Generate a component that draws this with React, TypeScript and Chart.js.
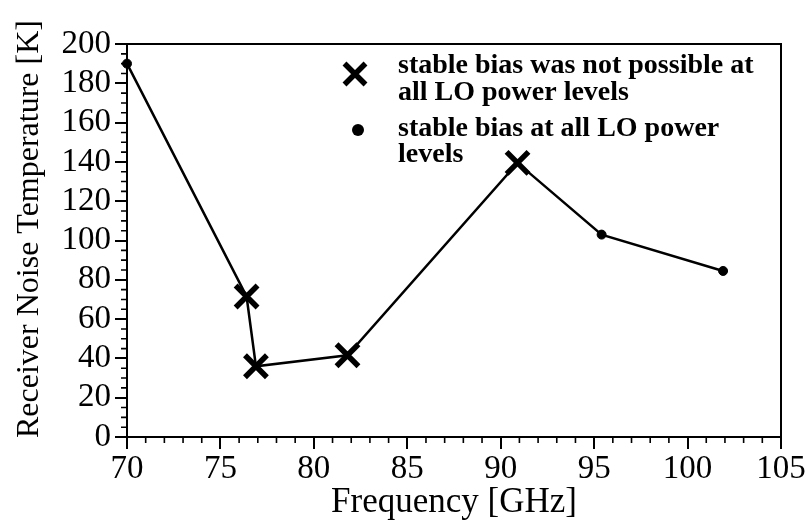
import React, { useEffect, useRef } from 'react';
import { Chart, registerables } from 'chart.js';

Chart.register(...registerables);

// ---- data ----
const frequencies = [70, 76.4, 76.9, 81.8, 90.9, 95.4, 101.9];
const temperatures = [190, 71.5, 36, 41.6, 139.5, 103, 84.5];
const stableAtAllLevels = [true, false, false, false, false, true, true];

const legendUnstable = ['stable bias was not possible at', 'all LO power levels'];
const legendStable = ['stable bias at all LO power', 'levels'];

const xTitle = 'Frequency [GHz]';
const yTitle = 'Receiver Noise Temperature [K]';
const xMin = 70;
const xMax = 105;
const xMajorStep = 5;
const xMinorStep = 1;
const yMin = 0;
const yMax = 200;
const yMajorStep = 20;
const yMinorStep = 5;

const SERIF = '"Liberation Serif", "Times New Roman", Times, serif';

function drawCross(ctx: CanvasRenderingContext2D, x: number, y: number, r: number, lw: number) {
  ctx.save();
  ctx.strokeStyle = '#000';
  ctx.lineWidth = lw;
  ctx.beginPath();
  ctx.moveTo(x - r, y - r);
  ctx.lineTo(x + r, y + r);
  ctx.moveTo(x - r, y + r);
  ctx.lineTo(x + r, y - r);
  ctx.stroke();
  ctx.restore();
}

const framePlugin = {
  id: 'frameAndMinor',
  afterDraw(chart: any) {
    const { ctx, chartArea } = chart;
    const xs = chart.scales.x;
    const ys = chart.scales.y;
    ctx.save();
    ctx.strokeStyle = '#000';
    ctx.lineWidth = 2;
    ctx.strokeRect(chartArea.left, chartArea.top, chartArea.right - chartArea.left, chartArea.bottom - chartArea.top);
    ctx.lineWidth = 1.6;
    ctx.beginPath();
    for (let v = xMin; v <= xMax; v += xMinorStep) {
      if (v % xMajorStep === 0) continue;
      const px = xs.getPixelForValue(v);
      ctx.moveTo(px, chartArea.bottom);
      ctx.lineTo(px, chartArea.bottom + 6);
    }
    for (let v = yMin; v <= yMax; v += yMinorStep) {
      if (v % yMajorStep === 0) continue;
      const py = ys.getPixelForValue(v);
      ctx.moveTo(chartArea.left - 6, py);
      ctx.lineTo(chartArea.left, py);
    }
    ctx.stroke();

    // y axis title
    ctx.save();
    ctx.translate(30, 229);
    ctx.rotate(-Math.PI / 2);
    ctx.font = '32px ' + SERIF;
    ctx.fillStyle = '#000';
    ctx.textAlign = 'center';
    ctx.textBaseline = 'middle';
    ctx.fillText(yTitle, 0, 0);
    ctx.restore();

    // legend
    const lx = chartArea.left;
    const ly = chartArea.top;
    drawCross(ctx, lx + 228, ly + 30, 10.5, 5.5);
    ctx.fillStyle = '#000';
    ctx.beginPath();
    ctx.arc(lx + 231, ly + 86, 6, 0, Math.PI * 2);
    ctx.fill();
    ctx.font = 'bold 28px ' + SERIF;
    ctx.textBaseline = 'alphabetic';
    ctx.textAlign = 'left';
    const tx = lx + 271;
    ctx.fillText(legendUnstable[0], tx, ly + 29);
    ctx.fillText(legendUnstable[1], tx, ly + 56);
    ctx.fillText(legendStable[0], tx, ly + 92);
    ctx.fillText(legendStable[1], tx, ly + 118);
    ctx.restore();
  },
};

export default function App() {
  const canvasRef = useRef<HTMLCanvasElement | null>(null);

  useEffect(() => {
    const canvas = canvasRef.current;
    if (!canvas) return;
    const points = frequencies.map((f, i) => ({ x: f, y: temperatures[i] }));
    const chart = new Chart(canvas, {
      type: 'line',
      data: {
        datasets: [
          {
            label: 'noise temperature',
            data: points,
            borderColor: '#000',
            backgroundColor: '#000',
            borderWidth: 2.5,
            tension: 0,
            clip: false as any,
            pointStyle: stableAtAllLevels.map((s) => (s ? 'circle' : 'crossRot')) as any,
            pointRadius: stableAtAllLevels.map((s) => (s ? 4.5 : 15.5)) as any,
            pointBorderWidth: stableAtAllLevels.map((s) => (s ? 1 : 5.5)) as any,
            pointBorderColor: '#000',
            pointBackgroundColor: '#000',
          },
        ],
      },
      options: {
        responsive: false,
        animation: false,
        events: [],
        layout: { padding: { left: 0, top: 44, right: 28, bottom: 0 } },
        plugins: {
          legend: { display: false },
          tooltip: { enabled: false },
        },
        scales: {
          x: {
            type: 'linear',
            min: xMin,
            max: xMax,
            afterFit: (scale: any) => {
              scale.height = 92;
            },
            grid: {
              drawOnChartArea: false,
              drawTicks: true,
              tickLength: 12,
              lineWidth: 2,
              color: '#000',
            },
            border: { display: true, color: '#000', width: 2 },
            ticks: {
              stepSize: xMajorStep,
              autoSkip: false,
              maxRotation: 0,
              padding: 1,
              color: '#000',
              font: { family: SERIF, size: 33 },
            },
            title: {
              display: true,
              text: xTitle,
              color: '#000',
              font: { family: SERIF, size: 35, lineHeight: 1 },
              padding: { top: 0, bottom: 9 },
            },
          },
          y: {
            type: 'linear',
            min: yMin,
            max: yMax,
            afterFit: (scale: any) => {
              scale.width = 127;
            },
            grid: {
              drawOnChartArea: false,
              drawTicks: true,
              tickLength: 12,
              lineWidth: 2,
              color: '#000',
            },
            border: { display: true, color: '#000', width: 2 },
            ticks: {
              stepSize: yMajorStep,
              autoSkip: false,
              padding: 4,
              color: '#000',
              font: { family: SERIF, size: 33 },
            },
            title: { display: false },
          },
        },
      },
      plugins: [framePlugin],
    });
    return () => chart.destroy();
  }, []);

  return (
    <div style={{ position: 'absolute', left: 0, top: 0, width: 809, height: 529, background: '#fff' }}>
      <canvas ref={canvasRef} width={809} height={529} style={{ display: 'block' }} />
    </div>
  );
}
